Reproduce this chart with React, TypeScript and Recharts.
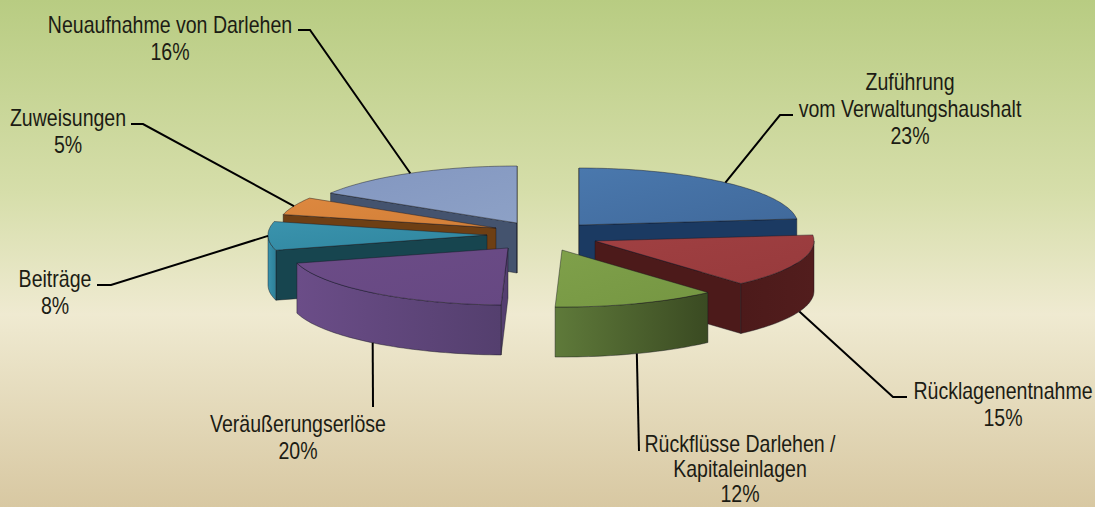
import { PieChart, Pie } from "recharts";

const categories = [
  "Zuführung\nvom Verwaltungshaushalt",
  "Rücklagenentnahme",
  "Rückflüsse Darlehen /\nKapitaleinlagen",
  "Veräußerungserlöse",
  "Beiträge",
  "Zuweisungen",
  "Neuaufnahme von Darlehen",
];
const values = [23.3, 15.1, 12.1, 20.2, 8.1, 5, 16.2];
const SPACER = "spacer";

const slices = categories.map((name, i) => ({ name, value: values[i] }));
const total = values.reduce((a, b) => a + b, 0);
const spacerFor = (list: { value: number }[]) => ({
  name: SPACER,
  value: total - list.reduce((a, b) => a + b.value, 0),
});

// right half runs clockwise, left half counter clockwise: paint order is then back to front
const rightHalf = slices.slice(0, 3);
const leftHalf = slices.slice(3).reverse();
const rightData = [...rightHalf, spacerFor(rightHalf)];
const leftData = [...leftHalf, spacerFor(leftHalf)];

const RX = 219;
const RY = 57;
const DEPTH = 50;

type Look = {
  dx: number;
  dy: number;
  top: [string, string];
  wall: string;
  rim: [string, string];
};

const looks: Look[] = [
  { dx: 39, dy: -10, top: ["#4a78ad", "#40699b"], wall: "#1b3a62", rim: ["#1b3a62", "#1b3a62"] },
  { dx: 55, dy: 6, top: ["#a04042", "#973a3c"], wall: "#4c1a1a", rim: ["#4c1a1a", "#521d1d"] },
  { dx: 22, dy: 15, top: ["#7fa04a", "#759642"], wall: "#4d6330", rim: ["#5f7a3a", "#3a4a22"] },
  { dx: -32, dy: 13, top: ["#6c4c87", "#664882"], wall: "#553f70", rim: ["#6b4d88", "#543f6e"] },
  { dx: -53, dy: 0, top: ["#3a93ad", "#2f859e"], wall: "#17454f", rim: ["#3a93ad", "#2c7f97"] },
  { dx: -44, dy: -7, top: ["#dd883f", "#d27f38"], wall: "#6e3f14", rim: ["#6e3f14", "#6e3f14"] },
  { dx: -23, dy: -12, top: ["#8296c0", "#8da1c6"], wall: "#44536e", rim: ["#44536e", "#44536e"] },
];

const labelSpots = [
  { elbow: [780, 115], tail: 793, x: 910, y: 82, gap: 27 },
  { elbow: [893, 397], tail: 907, x: 1003, y: 391, gap: 27 },
  { elbow: [639, 451], tail: 639, x: 740, y: 444, gap: 25 },
  { elbow: [373, 407], tail: 373, x: 298, y: 424, gap: 27 },
  { elbow: [111, 285], tail: 97, x: 55, y: 279, gap: 27 },
  { elbow: [143, 124], tail: 131, x: 68, y: 118, gap: 27 },
  { elbow: [310, 30], tail: 298, x: 170, y: 25, gap: 27 },
];

const rad = (deg: number) => (deg * Math.PI) / 180;
// theta is measured clockwise from the top of the pie
const project = (cx: number, cy: number, theta: number): [number, number] => [
  cx + RX * Math.sin(rad(theta)),
  cy - RY * Math.cos(rad(theta)),
];
const arcPoints = (cx: number, cy: number, from: number, to: number) => {
  const steps = Math.max(2, Math.ceil(Math.abs(to - from) / 1.5));
  const pts: [number, number][] = [];
  for (let i = 0; i <= steps; i++) pts.push(project(cx, cy, from + ((to - from) * i) / steps));
  return pts;
};
const toPath = (pts: [number, number][]) =>
  "M" + pts.map((p) => `${p[0].toFixed(1)},${p[1].toFixed(1)}`).join("L") + "Z";

function Slice3D(props: any) {
  const { name, cx, cy, startAngle, endAngle } = props;
  if (name === SPACER) return <g />;
  const i = categories.indexOf(name);
  const look = looks[i];
  const ox = cx + look.dx;
  const oy = cy + look.dy;
  const a = 90 - Math.max(startAngle, endAngle);
  const b = 90 - Math.min(startAngle, endAngle);
  const from = ((a % 360) + 360) % 360;
  const to = from + (b - a);
  const edge = "rgba(20,20,30,0.55)";

  const wall = (theta: number) => {
    const p = project(ox, oy, theta);
    return toPath([
      [ox, oy],
      p,
      [p[0], p[1] + DEPTH],
      [ox, oy + DEPTH],
    ]);
  };
  const rimFrom = Math.max(from, 90);
  const rimTo = Math.min(to, 270);
  const rim = arcPoints(ox, oy, rimFrom, rimTo);
  const rimPath =
    rimTo > rimFrom
      ? toPath([...rim, ...rim.map((p) => [p[0], p[1] + DEPTH] as [number, number]).reverse()])
      : null;

  return (
    <g>
      <defs>
        <linearGradient id={`top-${i}`} x1="0" y1="0" x2="1" y2="1">
          <stop offset="0" stopColor={look.top[0]} />
          <stop offset="1" stopColor={look.top[1]} />
        </linearGradient>
        <linearGradient id={`rim-${i}`} x1="0" y1="0" x2="1" y2="0">
          <stop offset="0" stopColor={look.rim[0]} />
          <stop offset="1" stopColor={look.rim[1]} />
        </linearGradient>
      </defs>
      {Math.sin(rad(from)) < 0.02 && <path d={wall(from)} fill={look.wall} stroke={edge} strokeWidth={0.8} />}
      {Math.sin(rad(to)) > -0.02 && <path d={wall(to)} fill={look.wall} stroke={edge} strokeWidth={0.8} />}
      {rimPath && <path d={rimPath} fill={`url(#rim-${i})`} stroke={edge} strokeWidth={0.8} />}
      <path
        d={toPath([[ox, oy], ...arcPoints(ox, oy, from, to)])}
        fill={`url(#top-${i})`}
        stroke={edge}
        strokeWidth={0.8}
      />
    </g>
  );
}

function SliceLabel(props: any) {
  const { name, cx, cy, midAngle, value } = props;
  if (name === SPACER) return <g />;
  const i = categories.indexOf(name);
  const look = looks[i];
  const spot = labelSpots[i];
  const theta = 90 - midAngle;
  const [ax, ay0] = project(cx + look.dx, cy + look.dy, theta);
  const ay = Math.cos(rad(theta)) < -0.2 ? ay0 + DEPTH : ay0;
  const lines = name.split("\n");
  return (
    <g>
      <polyline
        points={`${ax},${ay} ${spot.elbow[0]},${spot.elbow[1]} ${spot.tail},${spot.elbow[1]}`}
        fill="none"
        stroke="#000"
        strokeWidth={2}
      />
      {[...lines, `${Math.round(value)}%`].map((line: string, k: number) => (
        <text
          key={k}
          transform={`translate(${spot.x},${spot.y + k * spot.gap}) scale(0.85,1)`}
          textAnchor="middle"
          dominantBaseline="central"
          fontFamily="'Liberation Sans', Arial, sans-serif"
          fontSize={23}
          fill="#1c1c14"
        >
          {line}
        </text>
      ))}
    </g>
  );
}

export default function App() {
  return (
    <div
      style={{
        position: "absolute",
        left: 0,
        top: 0,
        width: 1095,
        height: 507,
        overflow: "hidden",
        background: "linear-gradient(180deg, #b8cc82 0%, #d6deaa 38%, #efead1 62%, #d8c8a2 100%)",
      }}
    >
      <PieChart width={1095} height={507} margin={{ top: 0, right: 0, bottom: 0, left: 0 }}>
        <Pie
          data={rightData}
          dataKey="value"
          nameKey="name"
          cx={540}
          cy={235}
          innerRadius={0}
          outerRadius={RX}
          startAngle={90}
          endAngle={-270}
          shape={Slice3D}
          label={SliceLabel}
          labelLine={false}
          isAnimationActive={false}
        />
        <Pie
          data={leftData}
          dataKey="value"
          nameKey="name"
          cx={540}
          cy={235}
          innerRadius={0}
          outerRadius={RX}
          startAngle={90}
          endAngle={450}
          shape={Slice3D}
          label={SliceLabel}
          labelLine={false}
          isAnimationActive={false}
        />
      </PieChart>
    </div>
  );
}
